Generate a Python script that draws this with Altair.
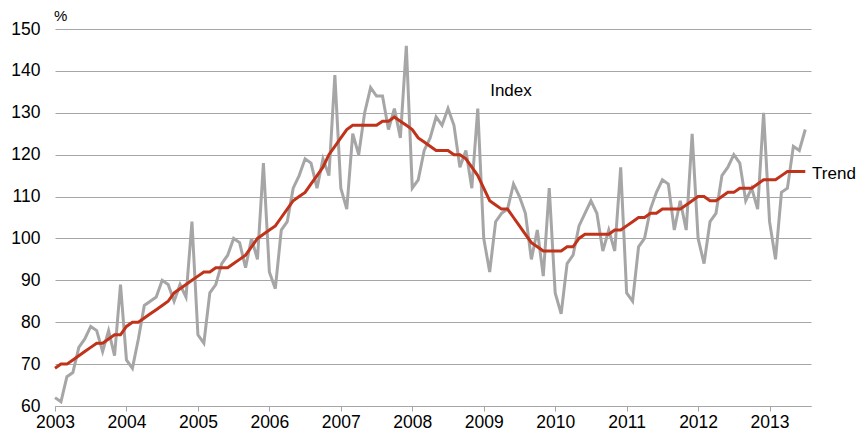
import altair as alt
import pandas as pd

# Monthly data, Jan 2003 .. Jul 2013
index_values = [
    62, 61, 67, 68, 74, 76, 79, 78, 73, 78, 72, 89,          # 2003
    71, 69, 76, 84, 85, 86, 90, 89, 85, 89, 86, 104,         # 2004
    77, 75, 87, 89, 94, 96, 100, 99, 93, 100, 95, 118,       # 2005
    92, 88, 102, 104, 112, 115, 119, 118, 112, 119, 115, 139,  # 2006
    112, 107, 125, 120, 130, 136, 134, 134, 126, 131, 124, 146,  # 2007
    112, 114, 121, 124, 129, 127, 131, 127, 117, 121, 112, 131,  # 2008
    100, 92, 104, 106, 107, 113, 110, 106, 95, 102, 91, 112,   # 2009
    87, 82, 94, 96, 103, 106, 109, 106, 97, 102, 97, 117,      # 2010
    87, 85, 98, 100, 107, 111, 114, 113, 102, 109, 102, 125,   # 2011
    100, 94, 104, 106, 115, 117, 120, 118, 109, 112, 107, 130,  # 2012
    104, 95, 111, 112, 122, 121, 126,                          # 2013
]
trend_values = [
    69, 70, 70, 71, 72, 73, 74, 75, 75, 76, 77, 77,
    79, 80, 80, 81, 82, 83, 84, 85, 87, 88, 89, 90,
    91, 92, 92, 93, 93, 93, 94, 95, 96, 98, 100, 101,
    102, 103, 105, 107, 109, 110, 111, 113, 115, 117, 120, 122,
    124, 126, 127, 127, 127, 127, 127, 128, 128, 129, 128, 127,
    126, 124, 123, 122, 121, 121, 121, 120, 120, 119, 117, 115,
    112, 109, 108, 107, 107, 105, 103, 101, 99, 98, 97, 97,
    97, 97, 98, 98, 100, 101, 101, 101, 101, 101, 102, 102,
    103, 104, 105, 105, 106, 106, 107, 107, 107, 107, 108, 109,
    110, 110, 109, 109, 110, 111, 111, 112, 112, 112, 113, 114,
    114, 114, 115, 116, 116, 116, 116,
]
series_names = ["Index", "Trend"]
year_ticks = [2003 + 0.5 * k for k in range(22)]
label_names = ["Index", "Trend"]
label_x = [2009.09, 2013.595]
label_y = [135.2, 115.4]

months = [2003 + i / 12 for i in range(len(index_values))]
df = pd.DataFrame({
    "t": months * 2,
    "value": index_values + trend_values,
    "series": [series_names[0]] * len(index_values) + [series_names[1]] * len(trend_values),
})
labels_df = pd.DataFrame({"t": label_x, "value": label_y, "name": label_names})

FONT = "Liberation Sans"
x_scale = alt.Scale(domain=[2003, 2013.58], nice=False, zero=False)
y_scale = alt.Scale(domain=[60, 150], nice=False, zero=False)

x_axis = alt.Axis(
    values=year_ticks,
    labelExpr="datum.value % 1 == 0 ? format(datum.value, 'd') : ''",
    grid=False, domainColor="#a6a6a6", tickColor="#a6a6a6", tickSize=5,
    labelFontSize=17.5, labelFont=FONT, labelColor="#000000", labelPadding=2,
    labelOverlap=False, labelFlush=False, labelBound=False, title=None,
)
y_axis = alt.Axis(
    values=list(range(60, 151, 10)), grid=True, gridColor="#a6a6a6",
    domain=False, ticks=False, labelFontSize=17.5, labelFont=FONT,
    labelColor="#000000", labelPadding=15, title=None,
)

lines = alt.Chart(df).mark_line(strokeWidth=3).encode(
    x=alt.X("t:Q", scale=x_scale, axis=x_axis),
    y=alt.Y("value:Q", scale=y_scale, axis=y_axis),
    color=alt.Color("series:N", scale=alt.Scale(domain=series_names,
                                                range=["#a6a6a6", "#c0321a"]), legend=None),
    order=alt.Order("t:Q"),
    detail="series:N",
)

text = alt.Chart(labels_df).mark_text(
    align="left", baseline="middle", fontSize=17, font=FONT, color="#000000"
).encode(
    x=alt.X("t:Q", scale=x_scale),
    y=alt.Y("value:Q", scale=y_scale),
    text="name:N",
)

pct = alt.Chart(pd.DataFrame({"s": ["%"]})).mark_text(
    align="left", baseline="middle", fontSize=15, font=FONT, color="#000000"
).encode(x=alt.value(-1), y=alt.value(-13.5), text="s:N")

chart = alt.layer(lines, text, pct).properties(
    width=756, height=377,
    padding={"left": 2, "top": 0, "right": 0, "bottom": 0},
).configure_view(stroke=None)

chart.save("out.html", embed_options={"renderer": "svg", "actions": False})
